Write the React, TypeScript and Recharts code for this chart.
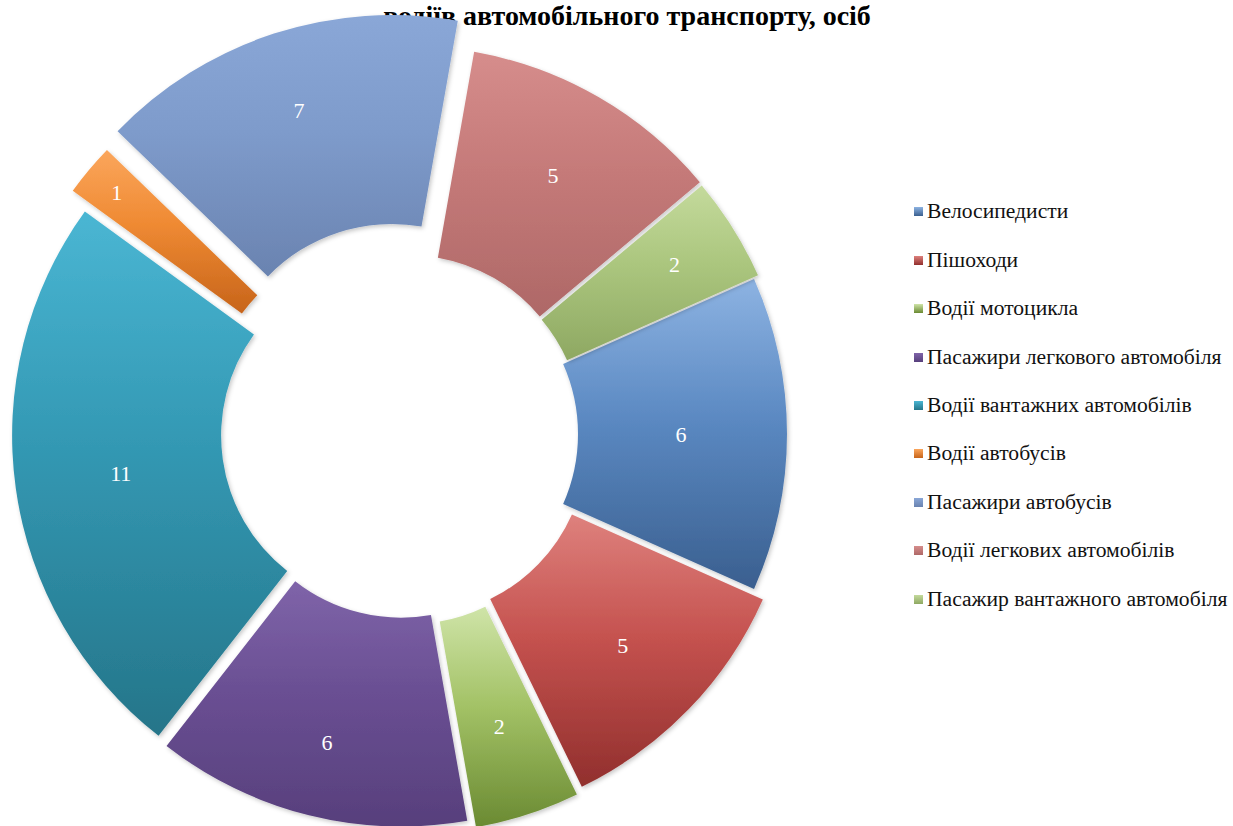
import { PieChart, Pie, Cell, Legend } from 'recharts';

// Розподіл загиблих за категоріями учасників руху, осіб
const categories = [
  'Велосипедисти',
  'Пішоходи',
  'Водії мотоцикла',
  'Пасажири легкового автомобіля',
  'Водії вантажних автомобілів',
  'Водії автобусів',
  'Пасажири автобусів',
  'Водії легкових автомобілів',
  'Пасажир вантажного автомобіля',
];
const values = [6, 5, 2, 6, 11, 1, 7, 5, 2];

const titleText = 'водіїв автомобільного транспорту, осіб';

// стиль: кольори (світлий верх / основний / темний низ), винесення секторів, радіус підписів
const lightColors = ['#8DB3E2', '#DE817D', '#CFE4A8', '#7F64A9', '#4AB6D3', '#FBA65C', '#8AA7D7', '#D68D8C', '#C4DA9C'];
const midColors = ['#5B89C2', '#C5524F', '#A3C266', '#6A4F93', '#3398B3', '#EF8A33', '#7E9BCB', '#C57A79', '#ABC67E'];
const darkColors = ['#3A5F8F', '#912F2D', '#6A8A32', '#573F7C', '#257589', '#C7641A', '#6A83B0', '#AE6867', '#8EA862'];
const explode = [2, 15, 19, 12, 11, 30, 40, 8, 7];
const labelRadius = [275, 289, 289, 306, 275, 345, 300, 290, 312];

const data = categories.map((name, i) => ({ name, value: values[i] }));
const total = values.reduce((a, b) => a + b, 0);

const CX = 404;
const CY = 434;
const INNER = 172;
const OUTER = 381;
const START = 24;
const SERIF = '"Liberation Serif", "Times New Roman", serif';

const midAngle = (i: number) => {
  const before = values.slice(0, i).reduce((a, b) => a + b, 0);
  return START - ((before + values[i] / 2) / total) * 360;
};

const makeLabel = (target: number) => (props: any) => {
  if (props.index !== target) return null;
  const { cx, cy, midAngle: mid, value } = props;
  const r = labelRadius[target];
  const rad = Math.PI / 180;
  return (
    <text
      x={cx + r * Math.cos(-mid * rad)}
      y={cy + r * Math.sin(-mid * rad)}
      fill="#fff"
      textAnchor="middle"
      dominantBaseline="central"
      fontSize={22}
      fontFamily={SERIF}
    >
      {value}
    </text>
  );
};

const LegendList = () => (
  <div style={{ fontFamily: SERIF, fontSize: 21.6, color: '#111' }}>
    {categories.map((name, i) => (
      <div key={name} style={{ height: 48.4, display: 'flex', alignItems: 'center', whiteSpace: 'nowrap' }}>
        <span
          style={{
            width: 9,
            height: 9,
            marginRight: 4,
            background: `linear-gradient(${lightColors[i]}, ${darkColors[i]})`,
            display: 'inline-block',
          }}
        />
        {name}
      </div>
    ))}
  </div>
);

export default function App() {
  return (
    <div style={{ position: 'absolute', left: 0, top: 0, width: 1233, height: 826, background: '#fff' }}>
      <PieChart width={1233} height={826} margin={{ top: 0, right: 0, bottom: 0, left: 0 }}>
        <defs>
          {lightColors.map((_, i) => (
            <linearGradient key={i} id={`grad${i}`} x1="0" y1="0" x2="0" y2="1">
              <stop offset="0%" stopColor={lightColors[i]} />
              <stop offset="45%" stopColor={midColors[i]} />
              <stop offset="100%" stopColor={darkColors[i]} />
            </linearGradient>
          ))}
          <filter id="shadow" x="-10%" y="-10%" width="120%" height="120%">
            <feDropShadow dx="1.5" dy="2" stdDeviation="2" floodColor="#000" floodOpacity="0.22" />
          </filter>
        </defs>
        <text x={627} y={25} textAnchor="middle" fontFamily={SERIF} fontWeight="bold" fontSize={28} fill="#000">
          {titleText}
        </text>
        {values.map((_, target) => {
          const a = (midAngle(target) * Math.PI) / 180;
          return (
            <Pie
              key={target}
              data={data}
              dataKey="value"
              nameKey="name"
              cx={CX + explode[target] * Math.cos(a)}
              cy={CY - explode[target] * Math.sin(a)}
              innerRadius={INNER}
              outerRadius={OUTER}
              startAngle={START}
              endAngle={START - 360}
              stroke="none"
              isAnimationActive={false}
              labelLine={false}
              label={makeLabel(target)}
            >
              {data.map((d, i) => (
                <Cell
                  key={d.name}
                  fill={i === target ? `url(#grad${i})` : 'none'}
                  stroke="none"
                  filter={i === target ? 'url(#shadow)' : undefined}
                />
              ))}
            </Pie>
          );
        })}
        <Legend
          layout="vertical"
          align="right"
          verticalAlign="top"
          content={() => <LegendList />}
          wrapperStyle={{ left: 914, top: 187.8, width: 319 }}
        />
      </PieChart>
    </div>
  );
}
